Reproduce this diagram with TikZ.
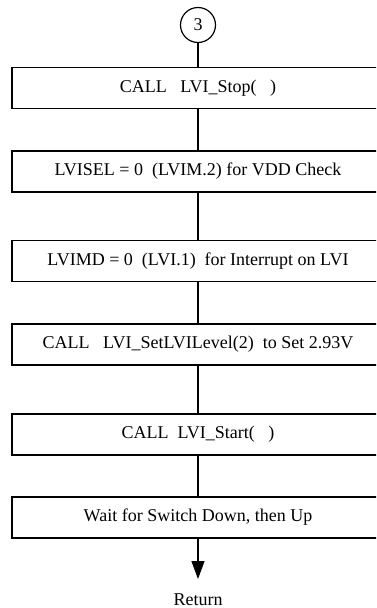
\documentclass[tikz,border=0pt]{standalone}
\usepackage{fontspec}
\setmainfont{Liberation Serif}
\usetikzlibrary{arrows.meta}
\tikzset{
  stepbox/.style={draw, line width=1.2pt, rectangle, minimum width=372pt,
    minimum height=41pt, inner sep=0pt, font=\fontsize{18}{21}\selectfont},
  conn/.style={line width=1.2pt},
  connector/.style={draw, circle, line width=1.2pt, minimum size=35pt,
    inner sep=0pt, font=\fontsize{18}{21}\selectfont},
}
\begin{document}
\begin{tikzpicture}[x=1pt, y=-1pt]
  \useasboundingbox (0,0) rectangle (376,608);
  \clip (0,0) rectangle (376,608);
  \node[connector] (c) at (198,25) {3};
  \node[stepbox] (s1) at (198,88)    {CALL\ \ \ LVI\_Stop(\ \ \ )};
  \node[stepbox] (s2) at (198,171.5) {LVISEL = 0\ \ (LVIM.2) for VDD Check};
  \node[stepbox] (s3) at (198,261)   {LVIMD = 0\ \ (LVI.1)\ \ for Interrupt on LVI};
  \node[stepbox] (s4) at (198,344.5) {CALL\ \ \ LVI\_SetLVILevel(2)\ \ to Set 2.93V};
  \node[stepbox] (s5) at (198,434.5) {CALL\ \ LVI\_Start(\ \ \ )};
  \node[stepbox] (s6) at (198,517.5) {Wait for Switch Down, then Up};
  \coordinate (tip) at (198,579);
  \node[anchor=base, inner sep=0pt, font=\fontsize{18}{21}\selectfont] (ret) at (198,605.5) {Return};
  \draw[conn] (c) -- (s1);
  \draw[conn] (s1) -- (s2);
  \draw[conn] (s2) -- (s3);
  \draw[conn] (s3) -- (s4);
  \draw[conn] (s4) -- (s5);
  \draw[conn] (s5) -- (s6);
  \draw[conn, -{Triangle[length=18pt, width=13pt]}] (s6) -- (tip);
\end{tikzpicture}
\end{document}
